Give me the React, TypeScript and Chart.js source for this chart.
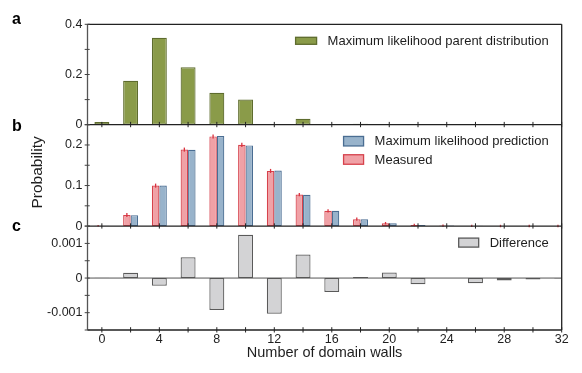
import React, { useEffect, useRef } from 'react';
import { Chart, registerables } from 'chart.js';

Chart.register(...registerables);

// ---------- data ----------
const domainWalls = [0, 2, 4, 6, 8, 10, 12, 14, 16, 18, 20, 22, 24, 26, 28, 30, 32];
const parentDist = [0.011, 0.175, 0.346, 0.229, 0.127, 0.1, 0, 0.024, 0, 0.004, 0, 0, 0, 0, 0, 0, 0];
const predicted = [0.001, 0.027, 0.1, 0.188, 0.222, 0.199, 0.137, 0.077, 0.038, 0.017, 0.007, 0.003, 0.0012, 0.0006, 0.0003, 0.0002, 0.0001];
const measured = [0.001, 0.0272, 0.0998, 0.1886, 0.2211, 0.2003, 0.136, 0.0777, 0.0376, 0.017, 0.0072, 0.0028, 0.0012, 0.0005, 0.0002, 0.0002, 0.0001];
const measuredErr = [0.002, 0.005, 0.005, 0.005, 0.005, 0.005, 0.005, 0.004, 0.004, 0.004, 0.003, 0.003, 0.003, 0.003, 0.003, 0.003, 0.003];
const difference = [0.00001, 0.00015, -0.00022, 0.0006, -0.00092, 0.00125, -0.00103, 0.00068, -0.0004, 0.00003, 0.00016, -0.00018, 0.000005, -0.00015, -0.00007, -0.00004, -0.00001];

const xTickValues = [0, 4, 8, 12, 16, 20, 24, 28, 32];
const xTickMarks = domainWalls;

const yTicksA = [0, 0.2, 0.4];
const yLabelsA = ['0', '0.2', '0.4'];
const yMarksA = [0, 0.1, 0.2, 0.3, 0.4];
const yTicksB = [0, 0.1, 0.2];
const yLabelsB = ['0', '0.1', '0.2'];
const yMarksB = [0, 0.05, 0.1, 0.15, 0.2, 0.25];
const yTicksC = [-0.001, 0, 0.001];
const yLabelsC = ['-0.001', '0', '0.001'];
const yMarksC = [-0.0015, -0.001, -0.0005, 0, 0.0005, 0.001, 0.0015];

const panelLetters = ['a', 'b', 'c'];
const xTitle = 'Number of domain walls';
const yTitle = 'Probability';

// ---------- styles ----------
const FONT = "'Liberation Sans', Arial, Helvetica, sans-serif";
const TEXT = '#1e1e1e';
const OLIVE = '#8a9b49';
const OLIVE_EDGE = '#5e6c2e';
const BLUE = '#98b3cb';
const BLUE_EDGE = '#4a6d92';
const RED = '#f0a1a6';
const RED_EDGE = '#d6424c';
const GRAY = '#d3d3d5';
const GRAY_EDGE = '#5a5a5a';
const ERR = '#d9323e';

function yScale(ticks: number[], labels: string[], min: number, max: number, weight: number, stackWeight: number) {
  return {
    type: 'linear' as const,
    position: 'left' as const,
    stack: 'panels',
    stackWeight,
    weight,
    min,
    max,
    grid: { display: false, drawTicks: false },
    border: { display: false },
    afterBuildTicks: (s: any) => {
      s.ticks = ticks.map((v) => ({ value: v }));
    },
    afterFit: (s: any) => {
      s.width = 87.5;
    },
    ticks: {
      padding: 5,
      color: TEXT,
      font: { family: FONT, size: 12.5 },
      callback: (_v: any, i: number) => labels[i],
    },
  };
}

const decor = {
  id: 'decor',
  afterDatasetsDraw(chart: any) {
    const ctx = chart.ctx;
    const meta = chart.getDatasetMeta(1);
    const yb = chart.scales.yb;
    ctx.save();
    ctx.strokeStyle = ERR;
    ctx.lineWidth = 1.3;
    meta.data.forEach((el: any, i: number) => {
      const v = measured[i];
      const e = measuredErr[i];
      ctx.beginPath();
      ctx.moveTo(el.x, yb.getPixelForValue(v - e));
      ctx.lineTo(el.x, yb.getPixelForValue(v + e));
      ctx.stroke();
    });
    ctx.restore();
  },
  afterDraw(chart: any) {
    const ctx = chart.ctx;
    const area = chart.chartArea;
    const { x, ya, yb, yc } = chart.scales;
    ctx.save();

    // zero line in panel c
    ctx.strokeStyle = '#555';
    ctx.lineWidth = 1;
    const z = yc.getPixelForValue(0);
    ctx.beginPath();
    ctx.moveTo(area.left, z);
    ctx.lineTo(area.right, z);
    ctx.stroke();

    // frame
    ctx.strokeStyle = '#222';
    ctx.lineWidth = 1.3;
    ctx.beginPath();
    ctx.moveTo(area.left, area.top);
    ctx.lineTo(area.right, area.top);
    ctx.moveTo(area.right, area.top);
    ctx.lineTo(area.right, area.bottom);
    [ya.bottom, yb.bottom, yc.bottom].forEach((y: number) => {
      ctx.moveTo(area.left, y);
      ctx.lineTo(area.right, y);
    });
    ctx.stroke();
    ctx.strokeStyle = '#555';
    ctx.beginPath();
    ctx.moveTo(area.left, area.top);
    ctx.lineTo(area.left, area.bottom);
    ctx.stroke();

    // x tick marks on each panel boundary
    ctx.strokeStyle = '#222';
    ctx.lineWidth = 1;
    [ya.bottom, yb.bottom, yc.bottom].forEach((y: number) => {
      ctx.beginPath();
      xTickMarks.forEach((v) => {
        const px = x.getPixelForValue(v);
        ctx.moveTo(px, y - 2.8);
        ctx.lineTo(px, y + 2.5);
      });
      ctx.stroke();
    });

    // y tick marks
    ctx.strokeStyle = '#444';
    const marks: [any, number[]][] = [[ya, yMarksA], [yb, yMarksB], [yc, yMarksC]];
    marks.forEach(([s, vals]) => {
      ctx.beginPath();
      vals.forEach((v) => {
        const py = s.getPixelForValue(v);
        ctx.moveTo(area.left - 2.8, py);
        ctx.lineTo(area.left + 2.2, py);
      });
      ctx.stroke();
    });

    // legends
    const drawLegend = (top: number, items: { label: string; fill: string; edge: string }[], bw: number, bh: number) => {
      ctx.font = `13px ${FONT}`;
      const maxW = Math.max(...items.map((it) => ctx.measureText(it.label).width));
      const textX = area.right - 13 - maxW;
      const boxX = textX - 11 - bw;
      items.forEach((it, i) => {
        const cy = top + 16.5 + i * 18.3;
        ctx.fillStyle = it.fill;
        ctx.fillRect(boxX, cy - bh / 2, bw, bh);
        ctx.strokeStyle = it.edge;
        ctx.lineWidth = 1.3;
        ctx.strokeRect(boxX, cy - bh / 2, bw, bh);
        ctx.fillStyle = TEXT;
        ctx.textAlign = 'left';
        ctx.textBaseline = 'middle';
        ctx.fillText(it.label, textX, cy + 0.5);
      });
    };
    const ds = chart.data.datasets;
    drawLegend(ya.top, [{ label: ds[0].label, fill: OLIVE, edge: OLIVE_EDGE }], 21, 7);
    drawLegend(yb.top, [
      { label: ds[2].label, fill: BLUE, edge: BLUE_EDGE },
      { label: ds[1].label, fill: RED, edge: RED_EDGE },
    ], 20, 9.5);
    drawLegend(yc.top, [{ label: ds[3].label, fill: GRAY, edge: GRAY_EDGE }], 20, 9);

    // panel letters
    ctx.fillStyle = '#000';
    ctx.font = `bold 16px ${FONT}`;
    ctx.textAlign = 'left';
    ctx.textBaseline = 'alphabetic';
    ctx.fillText(panelLetters[0], 12, ya.top);
    ctx.fillText(panelLetters[1], 12, yb.top + 6);
    ctx.fillText(panelLetters[2], 12, yc.top + 4.5);

    // y title
    ctx.save();
    ctx.translate(38, (yb.top + yb.bottom) / 2 - 3);
    ctx.rotate(-Math.PI / 2);
    ctx.font = `15.5px ${FONT}`;
    ctx.fillStyle = TEXT;
    ctx.textAlign = 'center';
    ctx.textBaseline = 'middle';
    ctx.fillText(yTitle, 0, 0);
    ctx.restore();

    ctx.restore();
  },
};

export default function App() {
  const ref = useRef<HTMLCanvasElement>(null);

  useEffect(() => {
    if (!ref.current) return;
    const pts = (vals: number[]) => domainWalls.map((x, i) => ({ x, y: vals[i] }));
    const common = {
      borderWidth: 1.2,
      borderSkipped: false,
      categoryPercentage: 0.52,
      barPercentage: 1,
    };
    const chart = new Chart(ref.current, {
      type: 'bar',
      data: {
        datasets: [
          {
            label: 'Maximum likelihood parent distribution',
            data: pts(parentDist),
            yAxisID: 'ya',
            grouped: false,
            backgroundColor: OLIVE,
            borderColor: OLIVE_EDGE,
            ...common,
          },
          {
            label: 'Measured',
            data: pts(measured),
            yAxisID: 'yb',
            stack: 'm',
            backgroundColor: RED,
            borderColor: RED_EDGE,
            ...common,
          },
          {
            label: 'Maximum likelihood prediction',
            data: pts(predicted),
            yAxisID: 'yb',
            stack: 'p',
            backgroundColor: BLUE,
            borderColor: BLUE_EDGE,
            ...common,
          },
          {
            label: 'Difference',
            data: pts(difference),
            yAxisID: 'yc',
            grouped: false,
            backgroundColor: GRAY,
            borderColor: GRAY_EDGE,
            ...common,
          },
        ] as any,
      },
      options: {
        responsive: false,
        animation: false,
        layout: { padding: { top: 24.3, right: 20.3, left: 0, bottom: 0 } },
        plugins: { legend: { display: false }, tooltip: { enabled: false } },
        scales: {
          x: {
            type: 'linear',
            min: -1,
            max: 32,
            offset: false,
            grid: { display: false, drawTicks: false, offset: false },
            border: { display: false },
            afterBuildTicks: (s: any) => {
              s.ticks = xTickValues.map((v) => ({ value: v }));
            },
            afterFit: (s: any) => {
              s.height = 43;
            },
            ticks: {
              padding: 2.5,
              color: TEXT,
              autoSkip: false,
              maxRotation: 0,
              font: { family: FONT, size: 12.5 },
            },
            title: {
              display: true,
              text: xTitle,
              color: TEXT,
              font: { family: FONT, size: 14.5 },
              padding: { top: 0, bottom: 11.3 },
            },
          },
          ya: yScale(yTicksA, yLabelsA, 0, 0.4, 3, 100.5),
          yb: yScale(yTicksB, yLabelsB, 0, 0.25, 2, 101.5),
          yc: yScale(yTicksC, yLabelsC, -0.0015, 0.0015, 1, 104),
        } as any,
      },
      plugins: [decor],
    });
    return () => chart.destroy();
  }, []);

  return (
    <div style={{ position: 'fixed', left: 0, top: 0, width: 582, height: 373, background: '#fff' }}>
      <canvas ref={ref} width={582} height={373} style={{ display: 'block' }} />
    </div>
  );
}
